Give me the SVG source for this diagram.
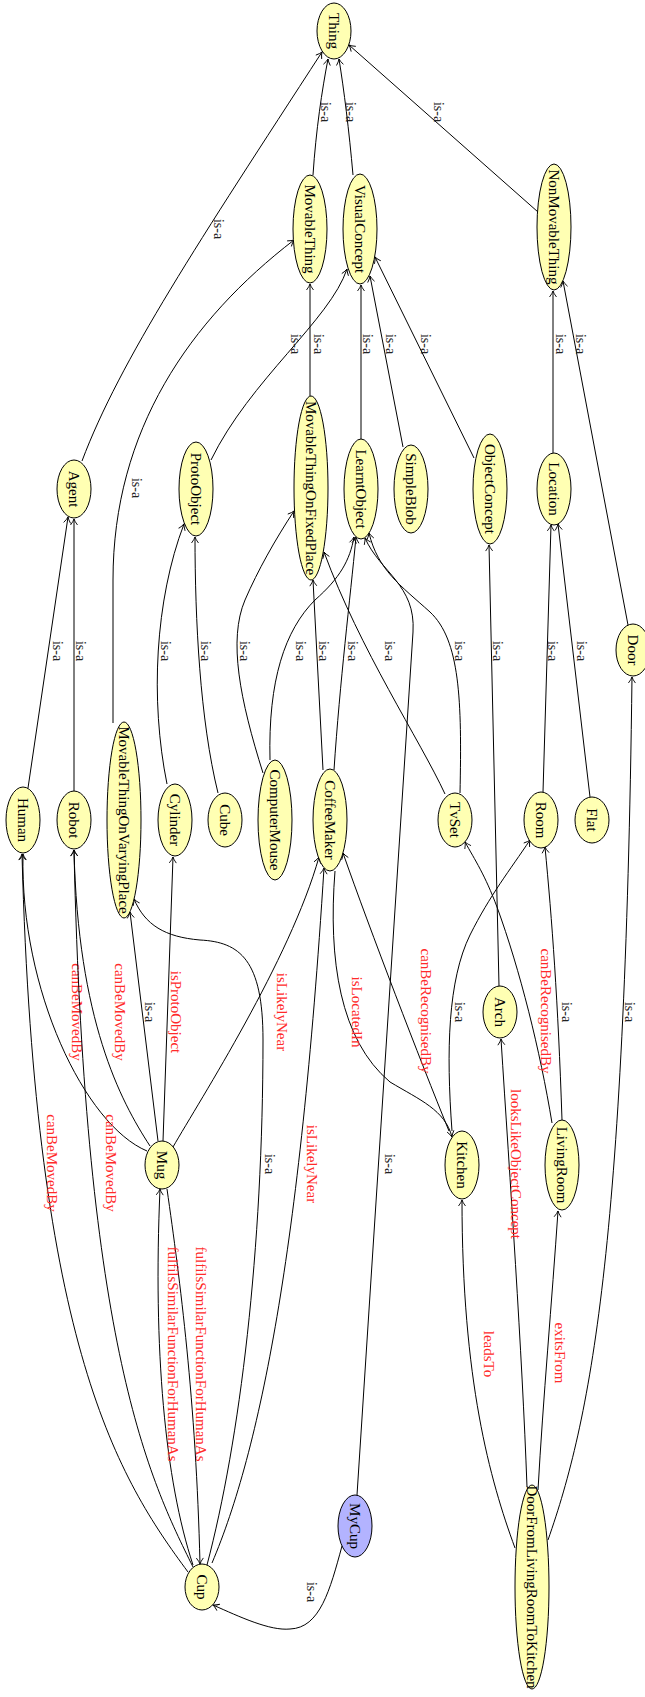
<svg xmlns="http://www.w3.org/2000/svg" width="645" height="1697" viewBox="0 0 645 1697">
<style>
  .n ellipse { fill: #ffffb3; stroke: #000; stroke-width: 1; }
  .n.inst ellipse { fill: #b3b3ff; }
  text { font-family: "Liberation Serif", "Times New Roman", serif; text-anchor: middle; dominant-baseline: central; }
  .n text { font-size: 15px; fill: #000; }
  .e path { fill: none; stroke: #000; stroke-width: 1; marker-end: url(#arr); }
  .isa { font-size: 14px; fill: #222; }
  .rel { font-size: 15px; fill: #ff2a2a; }
</style>
<defs>
  <marker id="arr" viewBox="-8 -5 10 10" refX="0" refY="0" markerWidth="10" markerHeight="10" orient="auto" markerUnits="userSpaceOnUse">
    <path d="M -6 -3.5 Q -2.5 -0.8 0 0 Q -2.5 0.8 -6 3.5" fill="none" stroke="#000" stroke-width="0.9"/>
  </marker>
</defs>
<rect width="645" height="1697" fill="#fff"/>

<!-- connectors -->
<g id="connectors">
  <g class="e"><path d="M 313 175 C 316 130, 322 90, 328 59"/><text class="isa" transform="translate(325,112) rotate(90)">is-a</text></g>
  <g class="e"><path d="M 353 175 C 349 130, 344 90, 339 59"/><text class="isa" transform="translate(350,112) rotate(90)">is-a</text></g>
  <g class="e"><path d="M 82 461 C 120 360, 200 240, 322 52"/><text class="isa" transform="translate(218,229) rotate(90)">is-a</text></g>
  <g class="e"><path d="M 538 212 L 349 45"/><text class="isa" transform="translate(438,112) rotate(90)">is-a</text></g>
  <g class="e"><path d="M 310 396 L 310 284"/><text class="isa" transform="translate(318,344) rotate(90)">is-a</text></g>
  <g class="e"><path d="M 113 723 L 113 580 C 113 430, 190 320, 294 240"/><text class="isa" transform="translate(136,488) rotate(90)">is-a</text></g>
  <g class="e"><path d="M 211 460 C 250 380, 330 320, 347 269"/><text class="isa" transform="translate(295,344) rotate(90)">is-a</text></g>
  <g class="e"><path d="M 361 439 L 361 285"/><text class="isa" transform="translate(367,344) rotate(90)">is-a</text></g>
  <g class="e"><path d="M 403 447 L 370 276"/><text class="isa" transform="translate(390,344) rotate(90)">is-a</text></g>
  <g class="e"><path d="M 474 458 L 375 257"/><text class="isa" transform="translate(425,344) rotate(90)">is-a</text></g>
  <g class="e"><path d="M 553 453 L 553 291"/><text class="isa" transform="translate(560,344) rotate(90)">is-a</text></g>
  <g class="e"><path d="M 628 625 L 563 281"/><text class="isa" transform="translate(580,344) rotate(90)">is-a</text></g>
  <g class="e"><path d="M 28 788 L 68 517"/><text class="isa" transform="translate(57,651) rotate(90)">is-a</text></g>
  <g class="e"><path d="M 74 791 L 74 519"/><text class="isa" transform="translate(80,651) rotate(90)">is-a</text></g>
  <g class="e"><path d="M 167 784 C 150 700, 155 600, 184 524"/><text class="isa" transform="translate(165,651) rotate(90)">is-a</text></g>
  <g class="e"><path d="M 218 793 C 200 720, 195 620, 195 537"/><text class="isa" transform="translate(205,651) rotate(90)">is-a</text></g>
  <g class="e"><path d="M 263 773 C 240 700, 228 640, 245 600 C 258 570, 275 540, 294 511"/><text class="isa" transform="translate(244,651) rotate(90)">is-a</text></g>
  <g class="e"><path d="M 270 760 C 268 680, 285 630, 315 600 C 340 578, 350 560, 354 537"/><text class="isa" transform="translate(300,651) rotate(90)">is-a</text></g>
  <g class="e"><path d="M 323 770 L 313 580"/><text class="isa" transform="translate(323,651) rotate(90)">is-a</text></g>
  <g class="e"><path d="M 334 770 C 340 680, 350 600, 356 537"/><text class="isa" transform="translate(352,651) rotate(90)">is-a</text></g>
  <g class="e"><path d="M 445 794 C 420 740, 360 650, 324 552"/><text class="isa" transform="translate(389,651) rotate(90)">is-a</text></g>
  <g class="e"><path d="M 460 793 C 462 700, 460 640, 430 612 C 400 585, 378 570, 369 533"/><text class="isa" transform="translate(459,651) rotate(90)">is-a</text></g>
  <g class="e"><path d="M 357 1495 L 413 632 C 416 585, 380 572, 365 538"/><text class="isa" transform="translate(389,1164) rotate(90)">is-a</text></g>
  <g class="e"><path d="M 590 797 L 558 524"/><text class="isa" transform="translate(581,651) rotate(90)">is-a</text></g>
  <g class="e"><path d="M 543 792 L 551 525"/><text class="isa" transform="translate(552,651) rotate(90)">is-a</text></g>
  <g class="e"><path d="M 499 986 L 489 545"/><text class="isa" transform="translate(497,651) rotate(90)">is-a</text></g>
  <g class="e"><path d="M 452 1131 C 446 1050, 448 980, 470 935 C 490 895, 510 870, 530 840"/><text class="isa" transform="translate(459,1012) rotate(90)">is-a</text></g>
  <g class="e"><path d="M 562 1120 C 558 1000, 552 920, 545 847"/><text class="isa" transform="translate(566,1012) rotate(90)">is-a</text></g>
  <g class="e"><path d="M 552 1123 C 540 1050, 520 970, 497 907 C 485 875, 475 860, 465 842"/><text class="rel" transform="translate(546,1011) rotate(90)">canBeRecognisedBy</text></g>
  <g class="e"><path d="M 335 871 C 328 960, 340 1040, 390 1082 C 420 1100, 445 1110, 452 1137"/><text class="rel" transform="translate(357,1012) rotate(90)">isLocatedIn</text></g>
  <g class="e"><path d="M 449 1131 C 420 1060, 370 930, 343 853"/><text class="rel" transform="translate(426,1011) rotate(90)">canBeRecognisedBy</text></g>
  <g class="e"><path d="M 147 1151 C 85 1125, 20 990, 23 854"/><text class="rel" transform="translate(77,1012) rotate(90)">canBeMovedBy</text></g>
  <g class="e"><path d="M 150 1146 C 120 1100, 78 1020, 74 850"/><text class="rel" transform="translate(120,1012) rotate(90)">canBeMovedBy</text></g>
  <g class="e"><path d="M 158 1141 L 130 912"/><text class="isa" transform="translate(149,1012) rotate(90)">is-a</text></g>
  <g class="e"><path d="M 163 1141 L 173 857"/><text class="rel" transform="translate(176,1012) rotate(90)">isProtoObject</text></g>
  <g class="e"><path d="M 173 1147 C 200 1100, 290 960, 319 857"/><text class="rel" transform="translate(282,1012) rotate(90)">isLikelyNear</text></g>
  <g class="e"><path d="M 207 1565 C 240 1440, 263 1250, 263 1040 C 263 960, 240 942, 200 940 C 165 937, 145 925, 134 899"/><text class="isa" transform="translate(269,1164) rotate(90)">is-a</text></g>
  <g class="e"><path d="M 212 1563 C 260 1450, 300 1250, 324 868"/><text class="rel" transform="translate(312,1164) rotate(90)">isLikelyNear</text></g>
  <g class="e"><path d="M 188 1572 C 120 1480, 35 1350, 22 854"/><text class="rel" transform="translate(52,1163) rotate(90)">canBeMovedBy</text></g>
  <g class="e"><path d="M 193 1567 C 150 1480, 85 1350, 74 850"/><text class="rel" transform="translate(111,1163) rotate(90)">canBeMovedBy</text></g>
  <g class="e"><path d="M 167 1189 C 180 1280, 196 1400, 200 1564"/><text class="rel" transform="translate(201,1354) rotate(90)">fulfilsSimilarFunctionForHumanAs</text></g>
  <g class="e"><path d="M 193 1565 C 165 1480, 153 1350, 160 1189"/><text class="rel" transform="translate(173,1354) rotate(90)">fulfilsSimilarFunctionForHumanAs</text></g>
  <g class="e"><path d="M 342 1546 C 330 1590, 320 1628, 290 1629 C 270 1631, 240 1617, 213 1605"/><text class="isa" transform="translate(311,1592) rotate(90)">is-a</text></g>
  <g class="e"><path d="M 548 1540 C 590 1420, 625 1250, 632 677"/><text class="isa" transform="translate(629,1012) rotate(90)">is-a</text></g>
  <g class="e"><path d="M 515 1548 C 490 1480, 462 1380, 462 1200"/><text class="rel" transform="translate(489,1354) rotate(90)">leadsTo</text></g>
  <g class="e"><path d="M 527 1487 C 522 1350, 510 1180, 501 1039"/><text class="rel" transform="translate(516,1164) rotate(90)">looksLikeObjectConcept</text></g>
  <g class="e"><path d="M 538 1490 C 543 1400, 552 1300, 558 1211"/><text class="rel" transform="translate(560,1353) rotate(90)">exitsFrom</text></g>
</g>

<!-- nodes -->
<g id="Thing" class="n"><ellipse cx="334" cy="31" rx="17" ry="28"/><text transform="translate(334,31) rotate(90)">Thing</text></g>
<g id="MovableThing" class="n"><ellipse cx="310" cy="229" rx="17" ry="54"/><text transform="translate(310,229) rotate(90)">MovableThing</text></g>
<g id="VisualConcept" class="n"><ellipse cx="360" cy="229" rx="17" ry="55"/><text transform="translate(360,229) rotate(90)">VisualConcept</text></g>
<g id="NonMovableThing" class="n"><ellipse cx="554" cy="227" rx="17" ry="63"/><text transform="translate(554,227) rotate(90)">NonMovableThing</text></g>
<g id="Agent" class="n"><ellipse cx="74" cy="489" rx="17" ry="29"/><text transform="translate(74,489) rotate(90)">Agent</text></g>
<g id="ProtoObject" class="n"><ellipse cx="196" cy="489" rx="17" ry="47"/><text transform="translate(196,489) rotate(90)">ProtoObject</text></g>
<g id="MovableThingOnFixedPlace" class="n"><ellipse cx="311" cy="488" rx="17" ry="92"/><text transform="translate(311,488) rotate(90)">MovableThingOnFixedPlace</text></g>
<g id="LearntObject" class="n"><ellipse cx="361" cy="489" rx="17" ry="50"/><text transform="translate(361,489) rotate(90)">LearntObject</text></g>
<g id="SimpleBlob" class="n"><ellipse cx="411" cy="489" rx="17" ry="44"/><text transform="translate(411,489) rotate(90)">SimpleBlob</text></g>
<g id="ObjectConcept" class="n"><ellipse cx="490" cy="489" rx="17" ry="55"/><text transform="translate(490,489) rotate(90)">ObjectConcept</text></g>
<g id="Location" class="n"><ellipse cx="554" cy="489" rx="17" ry="36"/><text transform="translate(554,489) rotate(90)">Location</text></g>
<g id="Door" class="n"><ellipse cx="633" cy="650" rx="17" ry="26"/><text transform="translate(633,650) rotate(90)">Door</text></g>
<g id="Human" class="n"><ellipse cx="23" cy="820" rx="17" ry="33"/><text transform="translate(23,820) rotate(90)">Human</text></g>
<g id="Robot" class="n"><ellipse cx="74" cy="820" rx="17" ry="29"/><text transform="translate(74,820) rotate(90)">Robot</text></g>
<g id="MovableThingOnVaryingPlace" class="n"><ellipse cx="124" cy="820" rx="17" ry="98"/><text transform="translate(124,820) rotate(90)">MovableThingOnVaryingPlace</text></g>
<g id="Cylinder" class="n"><ellipse cx="175" cy="820" rx="17" ry="36"/><text transform="translate(175,820) rotate(90)">Cylinder</text></g>
<g id="Cube" class="n"><ellipse cx="225" cy="820" rx="17" ry="27"/><text transform="translate(225,820) rotate(90)">Cube</text></g>
<g id="ComputerMouse" class="n"><ellipse cx="275" cy="820" rx="17" ry="60"/><text transform="translate(275,820) rotate(90)">ComputerMouse</text></g>
<g id="CoffeeMaker" class="n"><ellipse cx="330" cy="820" rx="17" ry="51"/><text transform="translate(330,820) rotate(90)">CoffeeMaker</text></g>
<g id="TvSet" class="n"><ellipse cx="455" cy="820" rx="17" ry="27"/><text transform="translate(455,820) rotate(90)">TvSet</text></g>
<g id="Room" class="n"><ellipse cx="541" cy="820" rx="17" ry="28"/><text transform="translate(541,820) rotate(90)">Room</text></g>
<g id="Flat" class="n"><ellipse cx="592" cy="820" rx="17" ry="23"/><text transform="translate(592,820) rotate(90)">Flat</text></g>
<g id="Arch" class="n"><ellipse cx="500" cy="1012" rx="17" ry="26"/><text transform="translate(500,1012) rotate(90)">Arch</text></g>
<g id="Mug" class="n"><ellipse cx="162" cy="1165" rx="17" ry="24"/><text transform="translate(162,1165) rotate(90)">Mug</text></g>
<g id="Kitchen" class="n"><ellipse cx="462" cy="1165" rx="17" ry="34"/><text transform="translate(462,1165) rotate(90)">Kitchen</text></g>
<g id="LivingRoom" class="n"><ellipse cx="562" cy="1165" rx="17" ry="45"/><text transform="translate(562,1165) rotate(90)">LivingRoom</text></g>
<g id="Cup" class="n"><ellipse cx="202" cy="1587" rx="17" ry="23"/><text transform="translate(202,1587) rotate(90)">Cup</text></g>
<g id="MyCup" class="n inst"><ellipse cx="355" cy="1526" rx="17" ry="31"/><text transform="translate(355,1526) rotate(90)">MyCup</text></g>
<g id="DoorFromLivingRoomToKitchen" class="n"><ellipse cx="532" cy="1587" rx="17" ry="102"/><text transform="translate(532,1587) rotate(90)">DoorFromLivingRoomToKitchen</text></g>
</svg>
